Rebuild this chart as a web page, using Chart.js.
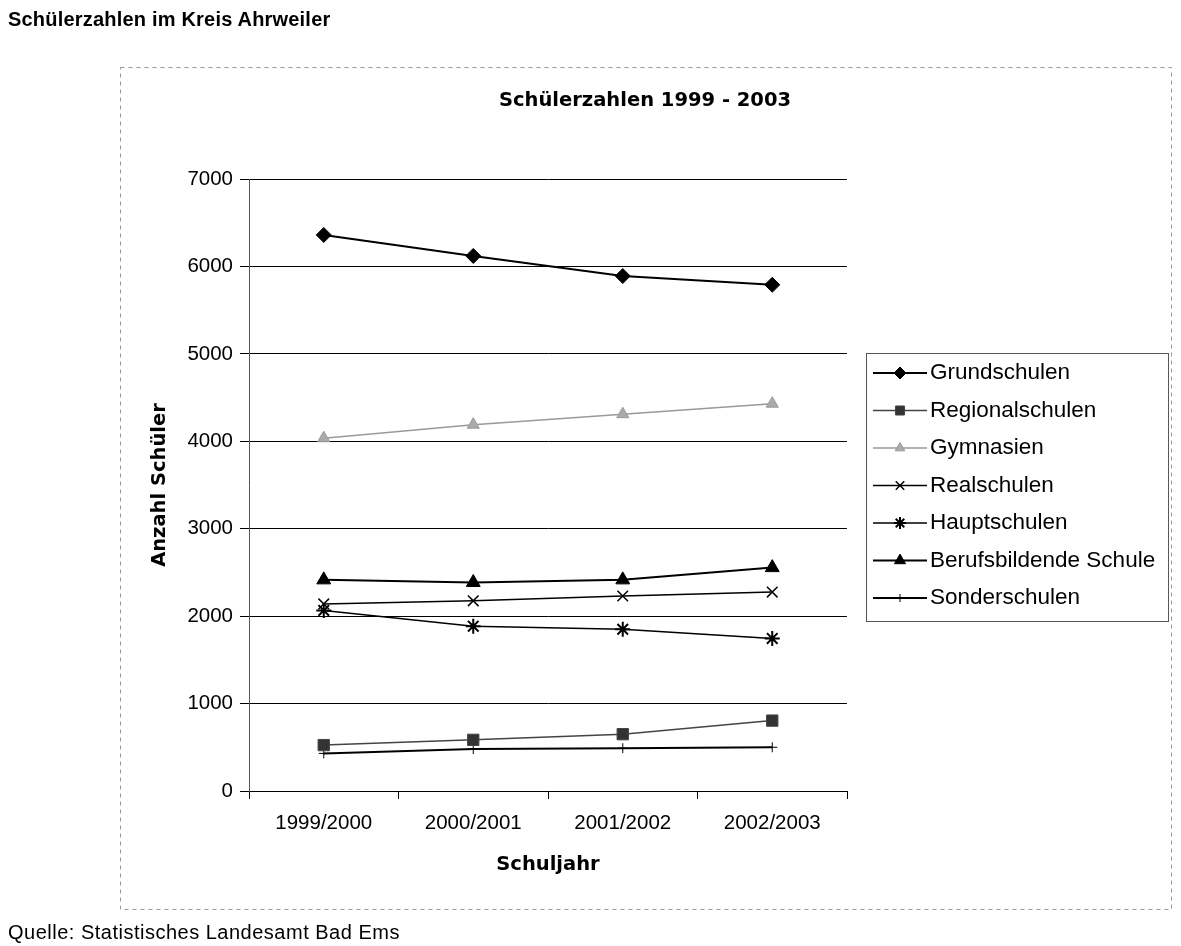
<!DOCTYPE html>
<html>
<head>
<meta charset="utf-8">
<title>Schülerzahlen im Kreis Ahrweiler</title>
<script src="https://cdn.jsdelivr.net/npm/chart.js@4/dist/chart.umd.min.js"></script>
<style>
  body { margin: 0; background: #fff; }
  #wrap { position: relative; width: 1181px; height: 946px; overflow: hidden; }
  #chart { position: absolute; left: 0; top: 0; }
  #kopf { position: absolute; left: 8px; top: 8px; line-height: 20px;
          font: bold 20px "Liberation Sans", Arial, sans-serif; letter-spacing: 0.2px; }
  #quelle { position: absolute; left: 8px; top: 921px; line-height: 20px;
            font: 20px "Liberation Sans", Arial, sans-serif; letter-spacing: 0.5px; }
</style>
</head>
<body>
<div id="wrap">
  <canvas id="chart" width="1181" height="946"></canvas>
  <div id="kopf">Schülerzahlen im Kreis Ahrweiler</div>
  <div id="quelle">Quelle: Statistisches Landesamt Bad Ems</div>
</div>
<script>
// Werte
let schuljahre = ["1999/2000", "2000/2001", "2001/2002", "2002/2003"];
let grundschulen = [6360, 6120, 5890, 5790];
let regionalschulen = [525, 585, 650, 805];
let gymnasien = [4035, 4190, 4310, 4430];
let realschulen = [2140, 2175, 2230, 2275];
let hauptschulen = [2065, 1885, 1850, 1745];
let berufsbildende = [2415, 2385, 2415, 2555];
let sonderschulen = [430, 480, 490, 500];

let chartTitel = "Schülerzahlen 1999 - 2003";

function reihe(label, data, farbe, breite, punkt, radius, fuellung, punktBreite) {
    return {
        label: label,
        data: data,
        borderColor: farbe,
        borderWidth: breite,
        pointStyle: punkt,
        pointRadius: radius,
        pointBackgroundColor: fuellung,
        pointBorderColor: farbe,
        pointBorderWidth: punktBreite,
        tension: 0,
        fill: false
    };
}

let datasets = [
    reihe("Grundschulen", grundschulen, "#000", 2, "rectRot", 7.5, "#000", 1),
    reihe("Regionalschulen", regionalschulen, "#444", 1.5, "rect", 8, "#333", 1),
    reihe("Gymnasien", gymnasien, "#999", 1.5, "triangle", 7, "#aaa", 1),
    reihe("Realschulen", realschulen, "#000", 1.5, "crossRot", 7.5, "#000", 1.5),
    reihe("Hauptschulen", hauptschulen, "#000", 1.5, "star", 7.5, "#000", 2),
    reihe("Berufsbildende Schule", berufsbildende, "#000", 2, "triangle", 8, "#000", 1),
    reihe("Sonderschulen", sonderschulen, "#000", 2, "cross", 5, "#000", 1)
];

// Rahmen, Diagrammtitel und Legende selbst zeichnen
let rahmen = {
    id: "rahmen",
    afterDraw(chart) {
        let ctx = chart.ctx;
        ctx.save();

        ctx.strokeStyle = "#999";
        ctx.lineWidth = 1;
        ctx.setLineDash([4, 4]);
        ctx.strokeRect(120.5, 67.5, 1051, 842);
        ctx.setLineDash([]);

        ctx.fillStyle = "#000";
        ctx.font = 'bold 19.5px "DejaVu Sans"';
        ctx.textAlign = "center";
        ctx.textBaseline = "middle";
        ctx.fillText(chartTitel, 645, 101);

        ctx.strokeStyle = "#555";
        ctx.lineWidth = 1;
        ctx.strokeRect(866.5, 353.5, 302, 268);

        chart.data.datasets.forEach((ds, i) => {
            let y = 373 + i * 37.5;
            ctx.strokeStyle = ds.borderColor;
            ctx.lineWidth = ds.borderWidth;
            ctx.beginPath();
            ctx.moveTo(873, y);
            ctx.lineTo(927, y);
            ctx.stroke();

            ctx.fillStyle = ds.pointBackgroundColor;
            ctx.strokeStyle = ds.pointBorderColor;
            ctx.lineWidth = ds.pointBorderWidth;
            Chart.helpers.drawPoint(ctx, {
                pointStyle: ds.pointStyle,
                radius: ds.pointRadius * 0.8,
                rotation: 0,
                borderWidth: ds.pointBorderWidth
            }, 900, y);

            ctx.fillStyle = "#000";
            ctx.font = '22.5px "Liberation Sans"';
            ctx.textAlign = "left";
            ctx.textBaseline = "middle";
            ctx.fillText(ds.label, 930, y);
        });
        ctx.restore();
    }
};

let tickFont = { family: '"Liberation Sans", Arial, sans-serif', size: 20.5 };
let titelFont = { family: '"DejaVu Sans", sans-serif', size: 19.5, weight: "bold" };

let chart = new Chart(document.getElementById("chart"), {
    type: "line",
    data: {
        labels: schuljahre,
        datasets: datasets
    },
    options: {
        responsive: false,
        devicePixelRatio: 1,
        animation: false,
        layout: { padding: { left: 144, right: 334, top: 179, bottom: 55 } },
        plugins: {
            legend: { display: false },
            title: { display: false },
            tooltip: { enabled: false }
        },
        scales: {
            x: {
                offset: true,
                grid: { drawOnChartArea: false, drawTicks: true, tickLength: 8, offset: true, color: "#000" },
                border: { display: true, color: "#000", width: 1 },
                ticks: { color: "#000", font: tickFont, padding: 12, maxRotation: 0 },
                title: { display: true, text: "Schuljahr", color: "#000", font: titelFont, padding: { top: 4, bottom: 14 } },
                afterFit(s) { s.height = 100; }
            },
            y: {
                min: 0,
                max: 7000,
                grid: { color: "#000", lineWidth: 1, tickLength: 9 },
                border: { color: "#555" },
                ticks: { stepSize: 1000, color: "#000", font: tickFont, padding: 7, callback: v => String(v) },
                title: { display: true, text: "Anzahl Schüler", color: "#000", font: titelFont, padding: { top: 4, bottom: 4 } },
                afterFit(s) { s.width = 105; }
            }
        }
    },
    plugins: [rahmen]
});
</script>
</body>
</html>
